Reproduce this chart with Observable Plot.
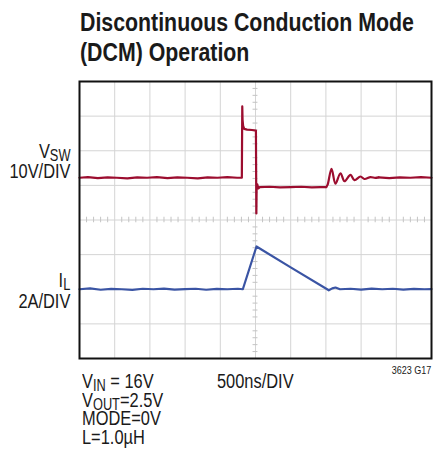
<!DOCTYPE html>
<html><head><meta charset="utf-8">
<script src="https://cdn.jsdelivr.net/npm/d3@7"></script>
<script src="https://cdn.jsdelivr.net/npm/@observablehq/plot@0.6"></script>
<style>
body{margin:0;background:#fff;}
#wrap{position:relative;width:433px;height:458px;font-family:"Liberation Sans",Arial,sans-serif;color:#1a1a1a;}
#wrap svg{position:absolute;left:0;top:0;}
.t{position:absolute;white-space:nowrap;line-height:1;transform:scaleX(0.82);transform-origin:left top;}
.t.r{transform-origin:right top;text-align:right;}
.t.lab{font-size:20px;line-height:16px;}
.t sub{font-size:0.78em;line-height:10px;vertical-align:baseline;position:relative;top:0.22em;}
</style></head>
<body><div id="wrap"></div>
<script>
// time axis: 500 ns/DIV, 10 divisions
const timeDomainNs = [0, 5000];
const gridTimesNs = [500, 1000, 1500, 2000, 2500, 3000, 3500, 4000, 4500];
const gridDivs = [1, 2, 3, 4, 5, 6, 7];
// channel scaling (divisions) and ground offsets
const vswPerDiv = 10, vswGroundDiv = 5;
const ilPerDiv = 2, ilGroundDiv = 2;

// V_SW trace (ns, volts)
const vswTimeNs = [0,120,260,400,530,680,820,960,1100,1250,1390,1530,1680,1820,1960,2100,2240,2306,2312,2316,2324,2340,2380,2450,2506,2512,2516,2525,2540,2560,2700,2850,3000,3150,3300,3420,3505,3525,3580,3636,3707,3764,3849,3906,3991,4048,4134,4200,4250,4400,4550,4700,4850,5000];
const vswVolts  = [2.2,2.4,2.1,2.3,2.2,2.0,2.3,2.2,2.4,2.1,2.3,2.2,2.0,2.3,2.2,2.4,2.2,2.2,22.8,19.0,17.2,16.3,16.1,16.0,15.8,-8.1,-1.0,0.3,-0.9,-0.5,-0.4,-0.6,-0.5,-0.4,-0.6,-0.5,-0.5,0.2,4.8,0.5,3.5,1.2,3.05,1.5,2.56,1.84,2.4,2.15,2.3,2.1,2.3,2.2,2.4,2.2];
const ringStartNs = 3505, ringEndNs = 4250;

// I_L trace (ns, amps)
const ilTimeNs = [0,150,300,450,600,750,900,1050,1200,1350,1500,1650,1800,1950,2100,2250,2320,2514,3000,3541,3590,3636,3700,3850,4000,4150,4300,4450,4600,4750,4900,5000];
const ilAmps   = [0,0.05,-0.03,0.02,0,-0.04,0.03,0,0.04,-0.02,0.01,0.03,-0.03,0.02,0,0.03,0,2.47,1.26,-0.06,0.05,0.1,0.0,0.03,-0.02,0.04,0,0.03,-0.02,0.02,0,0.01];

const vsw = vswTimeNs.map((t, i) => ({t, y: vswGroundDiv + vswVolts[i] / vswPerDiv,
  seg: t <= ringStartNs ? "a" : t >= ringEndNs ? "b" : null}));
const vswRing = vsw.filter(d => d.t >= ringStartNs && d.t <= ringEndNs);
const il = ilTimeNs.map((t, i) => ({t, y: ilGroundDiv + ilAmps[i] / ilPerDiv}));

const minorX = d3.range(0, 5001, 100).filter(d => d % 500 !== 0);
const minorY = d3.range(0, 8.001, 0.2).filter(d => Math.abs(d - Math.round(d)) > 1e-6);

const gridColor = "#d4d4d4";
const red = "#9c0d2f", blue = "#3a54a4";
const chart = Plot.plot({
  width: 433, height: 458,
  marginLeft: 79, marginRight: 2, marginTop: 81, marginBottom: 100,
  x: {domain: timeDomainNs, axis: null},
  y: {domain: [0, 8], axis: null},
  marks: [
    Plot.ruleX(gridTimesNs, {stroke: gridColor, strokeWidth: 1}),
    Plot.ruleY(gridDivs, {stroke: gridColor, strokeWidth: 1}),
    Plot.ruleX(minorX, {x: d => d, y1: 3.92, y2: 4.08, stroke: "#c4c4c4"}),
    Plot.ruleY(minorY, {y: d => d, x1: 2465, x2: 2535, stroke: "#c4c4c4"}),
    Plot.line(vsw.filter(d => d.seg), {x: "t", y: "y", z: "seg", stroke: red, strokeWidth: 2.2}),
    Plot.line(vswRing, {x: "t", y: "y", stroke: red, strokeWidth: 2.2, curve: "catmull-rom"}),
    Plot.line(il, {x: "t", y: "y", stroke: blue, strokeWidth: 2.2}),
    Plot.frame({stroke: "#111", strokeWidth: 2})
  ]
});
const wrap = document.getElementById("wrap");
wrap.appendChild(chart);

function addText(html, css, cls) {
  const d = document.createElement("div");
  d.className = "t" + (cls ? " " + cls : "");
  d.innerHTML = html;
  Object.assign(d.style, css);
  wrap.appendChild(d);
}
addText("Discontinuous Conduction Mode", {left: "80px", top: "9px", fontSize: "26px", fontWeight: "bold"});
addText("(DCM) Operation", {left: "80px", top: "39px", fontSize: "26px", fontWeight: "bold"});
addText("V<sub>SW</sub>", {right: "363px", top: "143px"}, "r lab");
addText("10V/DIV", {right: "363px", top: "163px"}, "r lab");
addText("I<sub>L</sub>", {right: "363px", top: "272px"}, "r lab");
addText("2A/DIV", {right: "363px", top: "293px"}, "r lab");
addText("3623 G17", {right: "2px", top: "364.5px", fontSize: "11px"}, "r");
addText("V<sub>IN</sub> = 16V", {left: "82px", top: "373px"}, "lab");
addText("V<sub>OUT</sub>=2.5V", {left: "82px", top: "391.5px"}, "lab");
addText("MODE=0V", {left: "82px", top: "410px"}, "lab");
addText("L=1.0µH", {left: "82px", top: "428.5px"}, "lab");
addText("500ns/DIV", {left: "217px", top: "373px"}, "lab");
</script>
</body></html>
